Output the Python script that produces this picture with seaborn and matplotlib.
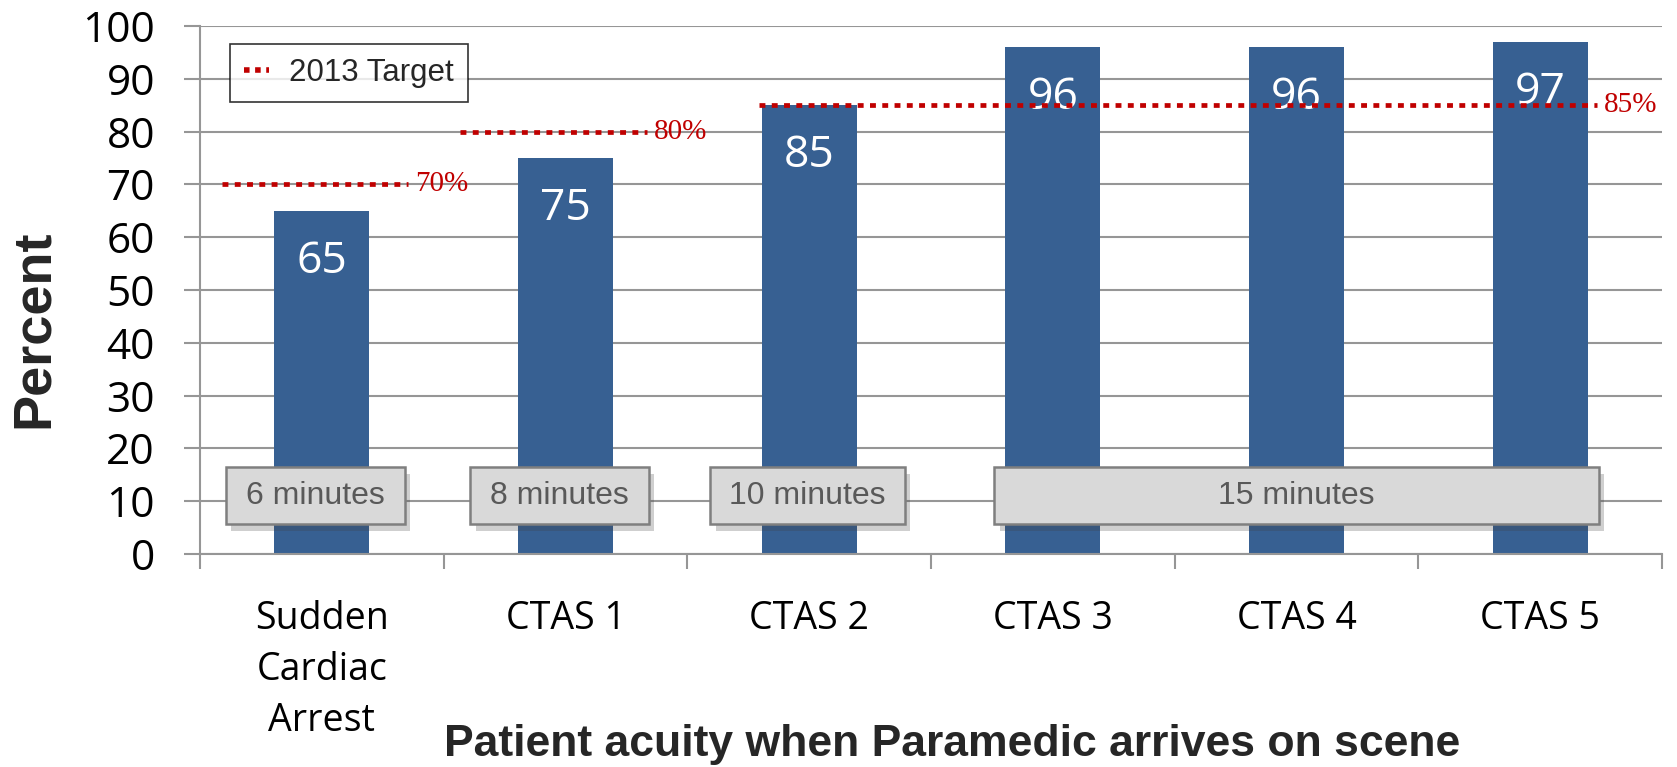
import matplotlib
matplotlib.use("Agg")
import matplotlib.pyplot as plt
import matplotlib.patheffects as pe
from matplotlib.patches import FancyBboxPatch
from matplotlib.lines import Line2D
from matplotlib import font_manager
import seaborn as sns
import pandas as pd

# ---------------- data ----------------
categories = ["Sudden\nCardiac\nArrest", "CTAS 1", "CTAS 2", "CTAS 3", "CTAS 4", "CTAS 5"]
values = [65, 75, 85, 96, 96, 97]
target_values = [70, 80, 85]
target_labels = ["70%", "80%", "85%"]
target_groups = [(0, 0), (1, 1), (2, 5)]
response_labels = ["6 minutes", "8 minutes", "10 minutes", "15 minutes"]
response_groups = [(0, 0), (1, 1), (2, 2), (3, 5)]
y_ticks = list(range(0, 101, 10))
legend_label = "2013 Target"
x_title = "Patient acuity when Paramedic arrives on scene"
y_title = "Percent"

# ---------------- style ----------------
sns.set_theme(style="white")
plt.rcParams["font.family"] = ["Open Sans", "DejaVu Sans"]

BAR = "#376092"
RED = "#C00000"
GRID = "#969696"

names = {f.name for f in font_manager.fontManager.ttflist}
if "Liberation Sans Narrow" in names:
    box_font, box_size = "Liberation Sans Narrow", 27
else:
    box_font, box_size = "Liberation Sans", 23

fig = plt.figure(figsize=(16.77, 7.67), dpi=100)
ax = fig.add_axes([0.1193, 0.2777, 0.8718, 0.6884])

df = pd.DataFrame({"cat": categories, "val": values})
sns.barplot(data=df, x="cat", y="val", color=BAR, saturation=1, width=0.39,
            ax=ax, zorder=2, edgecolor="none")

ax.set_xlim(-0.5, 5.5)
ax.set_ylim(0, 100)
ax.set_yticks(y_ticks)
ax.yaxis.grid(True, color=GRID, linewidth=1.5, zorder=0)
ax.set_axisbelow(True)
for s in ["top", "right"]:
    ax.spines[s].set_visible(False)
for s in ["left", "bottom"]:
    ax.spines[s].set_color(GRID)
    ax.spines[s].set_linewidth(1.5)

ax.tick_params(axis="y", which="major", length=11.5, width=1.5, color=GRID,
               pad=21, labelsize=30.5, left=True, labelcolor="black")
ax.tick_params(axis="x", which="major", length=0, pad=33, labelsize=27,
               labelcolor="black")
ax.set_xticks(range(len(categories)))
ax.set_xticklabels(categories, linespacing=1.45)
ax.set_xticks([i - 0.5 for i in range(len(categories) + 1)], minor=True)
ax.tick_params(axis="x", which="minor", length=11, width=1.5, color=GRID,
               bottom=True)
ax.set_xlabel("")
ax.set_ylabel("")

# value labels inside bars
for i, v in enumerate(values):
    ax.text(i, v - 5.4, str(v), ha="center", va="top", color="white",
            fontsize=32, zorder=4)

# target lines
DOT = (0, (1.25, 1.35))
line_offsets = [(-0.41, 0.353), (-0.433, 0.334), (-0.206, 0.232)]
for (a, b), tv, tl, (o1, o2) in zip(target_groups, target_values, target_labels, line_offsets):
    x0, x1 = a + o1, b + o2
    ax.plot([x0, x1], [tv, tv], color=RED, linewidth=3.4,
            linestyle=DOT, dash_capstyle="butt", zorder=5)
    ax.text(x1 + 0.03, tv, tl, color=RED, fontsize=21, va="center",
            ha="left", family="Liberation Serif", zorder=5)

# response-time boxes
box_offsets = [(-0.394, 0.339), (-0.391, 0.342), (-0.407, 0.392), (-0.24, 0.24)]
for (a, b), lab, (o1, o2) in zip(response_groups, response_labels, box_offsets):
    x0, x1 = a + o1, b + o2
    y0, y1 = 5.6, 16.5
    box = FancyBboxPatch((x0, y0), x1 - x0, y1 - y0, boxstyle="square,pad=0",
                         facecolor="#D9D9D9", edgecolor="#7F7F7F",
                         linewidth=1.8, zorder=6)
    box.set_path_effects([pe.SimplePatchShadow(offset=(4, -5), alpha=0.25,
                                               shadow_rgbFace="#404040"),
                          pe.Normal()])
    ax.add_patch(box)
    ax.text((x0 + x1) / 2, (y0 + y1) / 2, lab, ha="center", va="center",
            color="#595959", fontsize=box_size, family=[box_font, "DejaVu Sans"],
            zorder=7)

# legend
handle = Line2D([], [], color=RED, linewidth=4.0, linestyle=(0, (1.0, 1.0)),
                dash_capstyle="butt")
leg = ax.legend([handle], [legend_label], loc="upper left",
                bbox_to_anchor=(0.0205, 0.966), borderaxespad=0,
                frameon=True, fancybox=False, handlelength=0.8,
                handletextpad=0.65, borderpad=0.45,
                prop={"family": "Liberation Sans", "size": 22.5})
leg.get_frame().set_edgecolor("black")
leg.get_frame().set_linewidth(1.2)
leg.set_zorder(8)

# axis titles
fig.text(34 / 1677, 0.571, y_title, rotation=90, ha="center", va="center",
         fontsize=39, fontweight="bold", family="Liberation Sans")
fig.text(0.5677, 0.0287, x_title, ha="center", va="center",
         fontsize=32, fontweight="bold", family="Liberation Sans")

fig.savefig("out.png", dpi=100)
